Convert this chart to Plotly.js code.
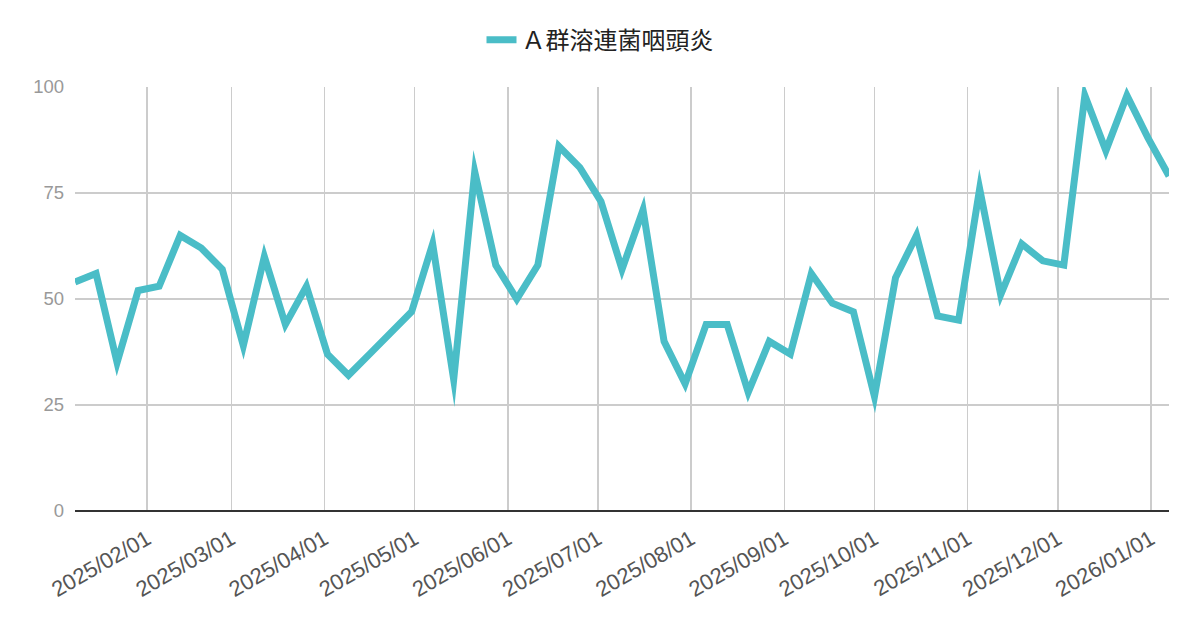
<!doctype html>
<html>
<head>
    <meta charset="utf-8">
    <title>Ａ群溶連菌咽頭炎</title>
    <style>
        body {margin: 0; background: #fff;}
        /* sharp mitred corners like the original chart */
        .js-line {stroke-linejoin: miter !important; stroke-miterlimit: 30 !important;}
    </style>
    <script src="https://cdn.plot.ly/plotly-3.0.1.min.js"></script>
</head>
<body>
<div id="chart" style="width:1200px;height:626px;"></div>
<script>
    // ====== DATA ==================================================
    let seriesName = 'Ａ群溶連菌咽頭炎';

    let weeks = [
        '2025-01-08', '2025-01-15', '2025-01-22', '2025-01-29',
        '2025-02-05', '2025-02-12', '2025-02-19', '2025-02-26',
        '2025-03-05', '2025-03-12', '2025-03-19', '2025-03-26',
        '2025-04-02', '2025-04-09', '2025-04-16', '2025-04-23', '2025-04-30',
        '2025-05-07', '2025-05-14', '2025-05-21', '2025-05-28',
        '2025-06-04', '2025-06-11', '2025-06-18', '2025-06-25',
        '2025-07-02', '2025-07-09', '2025-07-16', '2025-07-23', '2025-07-30',
        '2025-08-06', '2025-08-13', '2025-08-20', '2025-08-27',
        '2025-09-03', '2025-09-10', '2025-09-17', '2025-09-24',
        '2025-10-01', '2025-10-08', '2025-10-15', '2025-10-22', '2025-10-29',
        '2025-11-05', '2025-11-12', '2025-11-19', '2025-11-26',
        '2025-12-03', '2025-12-10', '2025-12-17', '2025-12-24', '2025-12-31',
        '2026-01-07'
    ];

    let cases = [
        54, 56, 35, 52, 53, 65, 62, 57, 39, 60,
        44, 53, 37, 32, 37, 42, 47, 63, 31, 80,
        58, 50, 58, 86, 81, 73, 57, 71, 40, 30,
        44, 44, 28, 40, 37, 56, 49, 47, 27, 55,
        65, 46, 45, 76, 51, 63, 59, 58, 98, 85,
        98, 88, 79
    ];

    let monthTicks = [
        '2025-02-01', '2025-03-01', '2025-04-01', '2025-05-01', '2025-06-01', '2025-07-01',
        '2025-08-01', '2025-09-01', '2025-10-01', '2025-11-01', '2025-12-01', '2026-01-01'
    ];
    let monthLabels = [
        '2025/02/01', '2025/03/01', '2025/04/01', '2025/05/01', '2025/06/01', '2025/07/01',
        '2025/08/01', '2025/09/01', '2025/10/01', '2025/11/01', '2025/12/01', '2026/01/01'
    ];

    let yTicks = [0, 25, 50, 75, 100];

    // ====== PLOT ==================================================
    let trace = {
        x: weeks,
        y: cases,
        name: seriesName,
        type: 'scatter',
        mode: 'lines',
        line: {
            color: '#4abdc7',
            width: 7,
        },
        hoverinfo: 'skip',
    };

    let layout = {
        width: 1200,
        height: 626,
        margin: {l: 75, r: 31, t: 87, b: 115},
        paper_bgcolor: '#fff',
        plot_bgcolor: '#fff',
        font: {family: 'Liberation Sans, Arial, Noto Sans CJK JP, sans-serif'},
        showlegend: true,
        legend: {
            orientation: 'h',
            x: 0.5,
            xref: 'container',
            xanchor: 'center',
            y: 0.90,
            yanchor: 'bottom',
            yref: 'container',
            font: {size: 24, color: '#222', family: 'Liberation Sans, Noto Sans CJK JP, sans-serif'},
        },
        xaxis: {
            type: 'date',
            range: [weeks[0], weeks[weeks.length - 1]],
            tickmode: 'array',
            tickvals: monthTicks,
            ticktext: monthLabels,
            tickangle: -30,
            tickfont: {size: 22, color: '#555'},
            showgrid: true,
            gridcolor: '#cccccc',
            gridwidth: 1.5,
            zeroline: false,
            showline: false,
            ticks: '',
            ticklabelstandoff: 10,
            fixedrange: true,
        },
        yaxis: {
            range: [0, 100],
            tickmode: 'array',
            tickvals: yTicks,
            tickfont: {size: 18.5, color: '#999'},
            showgrid: true,
            gridcolor: '#cccccc',
            gridwidth: 1.5,
            zeroline: true,
            zerolinecolor: '#333',
            zerolinewidth: 2,
            ticks: '',
            ticklabelstandoff: 10,
            fixedrange: true,
        },
    };

    let config = {
        displayModeBar: false,
        staticPlot: true,
    };

    Plotly.newPlot(document.getElementById('chart'), [trace], layout, config);
</script>
</body>
</html>
